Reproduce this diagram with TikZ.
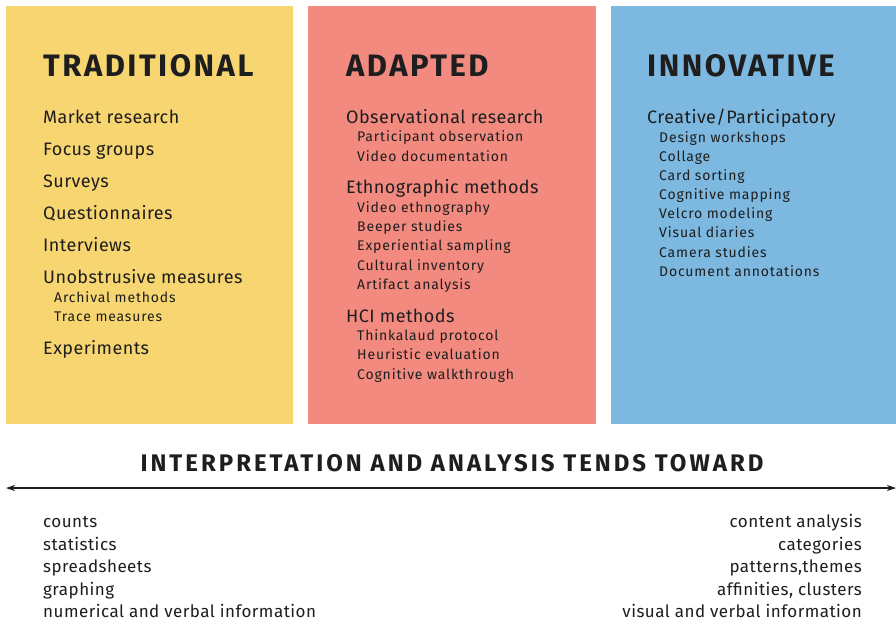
\documentclass[tikz,border=0pt]{standalone}
\usepackage{fontspec}
\setmainfont{Fira Sans}
\newfontfamily\headfont[LetterSpace=8]{Fira Sans}
\newfontfamily\bheadfont[LetterSpace=12.5]{Fira Sans}
\newfontfamily\itemfont[LetterSpace=2.4]{Fira Sans}
\newfontfamily\subfont[LetterSpace=6]{Fira Sans}
\newfontfamily\listfont[LetterSpace=2.8]{Fira Sans}
\usetikzlibrary{arrows.meta}
\definecolor{ylw}{RGB}{247,213,112}
\definecolor{rd}{RGB}{242,138,128}
\definecolor{bl}{RGB}{124,184,224}
\definecolor{ink}{RGB}{30,30,30}
\tikzset{
  x=1pt,y=-1pt,
  head/.style={anchor=base west,inner sep=0pt,font=\headfont\fontsize{31}{32}\selectfont\bfseries,text=ink},
  item/.style={anchor=base west,inner sep=0pt,font=\itemfont\fontsize{18}{19}\selectfont,text=ink},
  sub/.style={anchor=base west,inner sep=0pt,font=\subfont\fontsize{14}{15}\selectfont,text=ink},
  bhead/.style={anchor=base,inner sep=0pt,font=\bheadfont\fontsize{24}{25}\selectfont\bfseries,text=ink},
  litem/.style={anchor=base west,inner sep=0pt,font=\listfont\fontsize{17}{18}\selectfont,text=ink},
  ritem/.style={anchor=base east,inner sep=0pt,font=\listfont\fontsize{17}{18}\selectfont,text=ink},
  axis/.style={draw=ink,line width=1.1pt,{Stealth[length=9pt,width=6pt]}-{Stealth[length=9pt,width=6pt]}}
}
\begin{document}
\begin{tikzpicture}
\useasboundingbox (0,0) rectangle (896,622);
\fill[white] (0,0) rectangle (896,622);
\fill[ylw] (6,6) rectangle (293,424);
\fill[rd] (308,6) rectangle (596,424);
\fill[bl] (611,6) rectangle (896,424);

% Traditional
\node[head] (t0) at (43,76) {TRADITIONAL};
\node[item] (t1) at (43,123) {Market research};
\node[item] (t2) at (43,155) {Focus groups};
\node[item] (t3) at (43,187) {Surveys};
\node[item] (t4) at (43,219) {Questionnaires};
\node[item] (t5) at (43,251) {Interviews};
\node[item] (t6) at (43,283) {Unobstrusive measures};
\node[sub] (t7) at (54,302) {Archival methods};
\node[sub] (t8) at (54,321) {Trace measures};
\node[item] (t9) at (43,354) {Experiments};

% Adapted
\node[head] (a0) at (346,76) {ADAPTED};
\node[item] (a1) at (346,123) {Observational research};
\node[sub] (a2) at (357,141) {Participant observation};
\node[sub] (a3) at (357,161) {Video documentation};
\node[item] (a4) at (346,193) {Ethnographic methods};
\node[sub] (a5) at (357,212) {Video ethnography};
\node[sub] (a6) at (357,231) {Beeper studies};
\node[sub] (a7) at (357,250) {Experiential sampling};
\node[sub] (a8) at (357,270) {Cultural inventory};
\node[sub] (a9) at (357,289) {Artifact analysis};
\node[item] (a10) at (346,322) {HCI methods};
\node[sub] (a11) at (357,340) {Thinkalaud protocol};
\node[sub] (a12) at (357,359) {Heuristic evaluation};
\node[sub] (a13) at (357,379) {Cognitive walkthrough};

% Innovative
\node[head] (i0) at (647,76) {INNOVATIVE};
\node[item] (i1) at (647,123) {Creative/Participatory};
\node[sub] (i2) at (659,142) {Design workshops};
\node[sub] (i3) at (659,161) {Collage};
\node[sub] (i4) at (659,180) {Card sorting};
\node[sub] (i5) at (659,199) {Cognitive mapping};
\node[sub] (i6) at (659,218) {Velcro modeling};
\node[sub] (i7) at (659,237) {Visual diaries};
\node[sub] (i8) at (659,257) {Camera studies};
\node[sub] (i9) at (659,276) {Document annotations};

% Bottom
\node[bhead] (bh) at (452,471) {INTERPRETATION AND ANALYSIS TENDS TOWARD};
\coordinate (al) at (6,488);
\coordinate (ar) at (896,488);
\draw[axis] (al) -- (ar);

\node[litem] (l1) at (43,527) {counts};
\node[litem] (l2) at (43,550) {statistics};
\node[litem] (l3) at (43,572) {spreadsheets};
\node[litem] (l4) at (43,595) {graphing};
\node[litem] (l5) at (43,617) {numerical and verbal information};

\node[ritem] (r1) at (862,527) {content analysis};
\node[ritem] (r2) at (862,550) {categories};
\node[ritem] (r3) at (862,572) {patterns,themes};
\node[ritem] (r4) at (862,595) {affinities, clusters};
\node[ritem] (r5) at (862,617) {visual and verbal information};
\end{tikzpicture}
\end{document}
